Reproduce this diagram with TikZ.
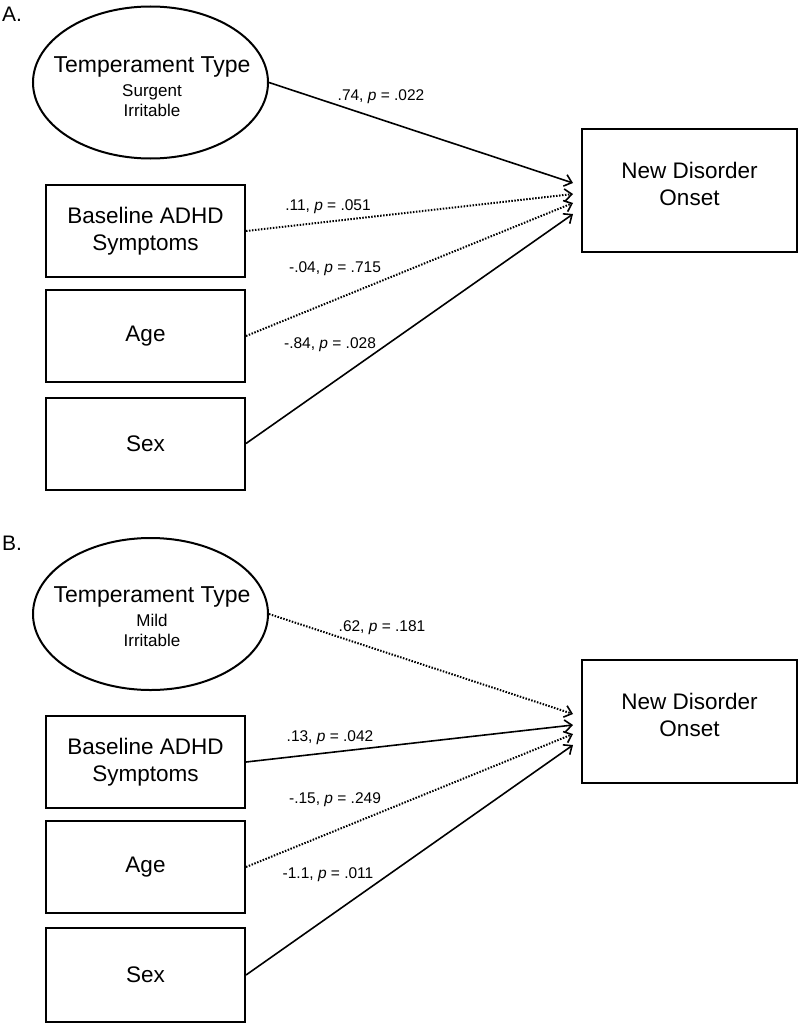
\documentclass[tikz,border=0pt]{standalone}
\usepackage{fontspec}
\setmainfont{Liberation Sans}
\usetikzlibrary{arrows.meta,shapes.geometric}
\begin{document}
\begin{tikzpicture}[x=1pt,y=-1pt,
  box/.style={draw,line width=2pt,rectangle,minimum width=199pt,minimum height=92pt,inner sep=0pt,align=center,font=\fontsize{22.5}{27}\selectfont},
  outbox/.style={draw,line width=2pt,rectangle,minimum width=215pt,minimum height=123pt,inner sep=0pt},
  latent/.style={draw,line width=2pt,ellipse,minimum width=235pt,minimum height=152pt,inner sep=0pt},
  bigtxt/.style={inner sep=0pt,anchor=base,font=\fontsize{23}{27}\selectfont},
  smalltxt/.style={inner sep=0pt,anchor=base,font=\fontsize{17}{20}\selectfont},
  panel/.style={inner sep=0pt,anchor=west,font=\fontsize{21}{24}\selectfont},
  lab/.style={inner sep=0pt,font=\fontsize{15.5}{18}\selectfont},
  pathsolid/.style={line width=1.6pt,-{Straight Barb[length=7pt,width=12pt]}},
  pathdot/.style={line width=2pt,dash pattern=on 1.5pt off 1.5pt,-{Straight Barb[length=7pt,width=12pt,line width=1.6pt]}}
]
\useasboundingbox (0,0) rectangle (800,1025);

% ---------- Panel A ----------
\node[panel] (pA) at (2,14) {A.};
\node[latent] (tA) at (150.5,82.5) {};
\node[bigtxt] (tA1) at (152,73) {Temperament Type};
\node[smalltxt] (tA2) at (152,96) {Surgent};
\node[smalltxt] (tA3) at (152,116) {Irritable};
\node[box] (bA) at (145.5,231) {Baseline ADHD\\Symptoms};
\node[box] (aA) at (145.5,336) {Age};
\node[box] (sA) at (145.5,443.5) {Sex};
\node[outbox] (nA) at (689.5,190.5) {};
\node[inner sep=0pt,align=center,font=\fontsize{22.5}{27}\selectfont] (nAt) at (689.5,184) {New Disorder\\Onset};
\coordinate (eA1) at (573,183);
\coordinate (eA2) at (573,194);
\coordinate (eA3) at (573,203);
\coordinate (eA4) at (573,214);
\draw[pathsolid] (tA.east) -- (eA1);
\draw[pathdot] (bA.east) -- (eA2);
\draw[pathdot] (aA.east) -- (eA3);
\draw[pathsolid] (sA.east) -- (eA4);
\node[lab] (lA1) at (381,97) {.74, \textit{p} = .022};
\node[lab] (lA2) at (328,207) {.11, \textit{p} = .051};
\node[lab] (lA3) at (335,269) {-.04, \textit{p} = .715};
\node[lab] (lA4) at (330,345) {-.84, \textit{p} = .028};

% ---------- Panel B ----------
\node[panel] (pB) at (2,543) {B.};
\node[latent] (tB) at (150.5,614) {};
\node[bigtxt] (tB1) at (152,602) {Temperament Type};
\node[smalltxt] (tB2) at (152,626) {Mild};
\node[smalltxt] (tB3) at (152,646) {Irritable};
\node[box] (bB) at (145.5,762) {Baseline ADHD\\Symptoms};
\node[box] (aB) at (145.5,867) {Age};
\node[box,minimum height=94pt] (sB) at (145.5,975) {Sex};
\node[outbox] (nB) at (689.5,721.5) {};
\node[inner sep=0pt,align=center,font=\fontsize{22.5}{27}\selectfont] (nBt) at (689.5,715) {New Disorder\\Onset};
\coordinate (eB1) at (573,714);
\coordinate (eB2) at (573,725);
\coordinate (eB3) at (573,734);
\coordinate (eB4) at (573,745);
\draw[pathdot] (tB.east) -- (eB1);
\draw[pathsolid] (bB.east) -- (eB2);
\draw[pathdot] (aB.east) -- (eB3);
\draw[pathsolid] (sB.east) -- (eB4);
\node[lab] (lB1) at (382,628) {.62, \textit{p} = .181};
\node[lab] (lB2) at (330,738) {.13, \textit{p} = .042};
\node[lab] (lB3) at (335,800) {-.15, \textit{p} = .249};
\node[lab] (lB4) at (328,875) {-1.1, \textit{p} = .011};
\end{tikzpicture}
\end{document}
